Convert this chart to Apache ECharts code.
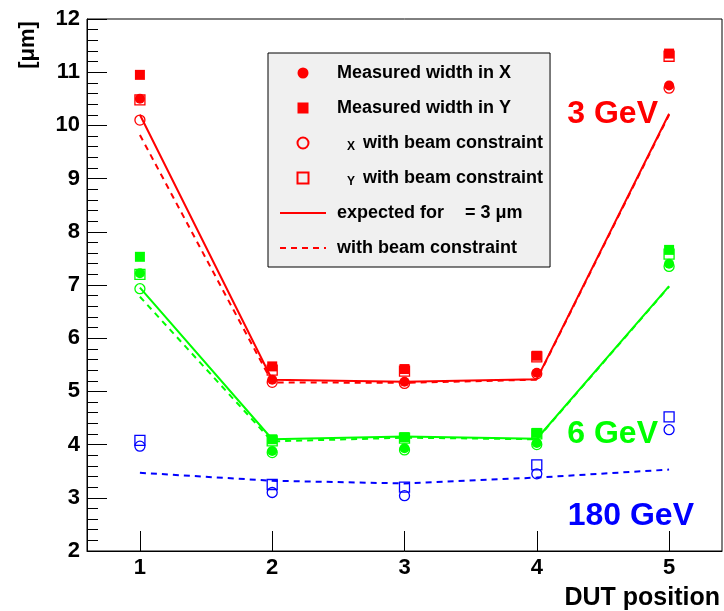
<!DOCTYPE html>
<html>
<head>
<meta charset="utf-8">
<script src="https://cdn.jsdelivr.net/npm/echarts@6/dist/echarts.min.js"></script>
<style>
  html, body { margin: 0; padding: 0; background: #fff; }
  #chart { width: 724px; height: 611px; }
</style>
</head>
<body>
<div id="chart"></div>
<script>
// DUT positions
var positions = [1, 2, 3, 4, 5]
var yTicks = [2, 3, 4, 5, 6, 7, 8, 9, 10, 11, 12]

// 3 GeV
var red_measX = [10.5, 5.22, 5.18, 5.35, 10.75]
var red_measY = [10.95, 5.47, 5.42, 5.67, 11.35]
var red_consX = [10.1, 5.17, 5.15, 5.33, 10.7]
var red_consY = [10.48, 5.4, 5.38, 5.65, 11.3]
var red_exp = [10.2, 5.22, 5.18, 5.23, 10.22]
var red_expC = [9.82, 5.17, 5.16, 5.22, 10.2]

// 6 GeV
var green_measX = [7.22, 3.88, 3.93, 4.03, 7.4]
var green_measY = [7.53, 4.1, 4.14, 4.22, 7.66]
var green_consX = [6.93, 3.85, 3.9, 4.0, 7.35]
var green_consY = [7.2, 4.07, 4.12, 4.2, 7.58]
var green_exp = [6.95, 4.1, 4.15, 4.11, 6.98]
var green_expC = [6.78, 4.06, 4.13, 4.1, 6.97]

// 180 GeV
var blue_consX = [3.97, 3.1, 3.04, 3.45, 4.28]
var blue_consY = [4.08, 3.25, 3.2, 3.62, 4.52]
var blue_expC = [3.47, 3.32, 3.27, 3.38, 3.53]

var RED = '#ff0000'
var GREEN = '#00ff00'
var BLUE = '#0000ff'
var FONT = 'Liberation Sans'
var SQUARE = 'path://M0,0L10,0L10,10L0,10Z'

function pts(vals) {
  return positions.map(function(p, i) { return [p, vals[i]] })
}

function filled(name, color, symbol, vals) {
  return { name: name, type: 'scatter', symbol: symbol, symbolSize: 10, z: 4,
    itemStyle: { color: color, opacity: 1 }, data: pts(vals) }
}
function open(name, color, symbol, vals) {
  return { name: name, type: 'scatter', symbol: symbol, symbolSize: 10, z: 5,
    itemStyle: { color: 'rgba(0,0,0,0)', borderColor: color, borderWidth: 1.3, opacity: 1 }, data: pts(vals) }
}
function line(name, color, dashed, vals) {
  return { name: name, type: 'line', symbol: 'none', z: 3, silent: true,
    lineStyle: { color: color, width: 2, type: dashed ? [6, 5] : 'solid' },
    itemStyle: { color: color }, data: pts(vals) }
}

var legendText = {
  mx: 'Measured width in X',
  my: 'Measured width in Y',
  cx: '{gap|}{sub|X} with beam constraint',
  cy: '{gap|}{sub|Y} with beam constraint',
  exp: 'expected for {gap2|}= 3 μm',
  expc: 'with beam constraint'
}

var chart = echarts.init(document.getElementById('chart'))
chart.setOption({
  animation: false,
  backgroundColor: '#fff',
  grid: { left: 87, top: 19, right: 2, bottom: 60, show: true, borderColor: '#000', borderWidth: 1 },
  xAxis: {
    type: 'value', min: 0.6, max: 5.4,
    name: 'DUT position', nameLocation: 'end', nameGap: -2,
    nameTextStyle: { fontFamily: FONT, fontWeight: 'bold', fontSize: 25, color: '#000',
      align: 'right', verticalAlign: 'top', padding: [35, 0, 0, 0] },
    axisLine: { lineStyle: { color: '#000', width: 1 } },
    axisTick: { inside: true, length: 20, customValues: positions, lineStyle: { color: '#000' } },
    axisLabel: { customValues: positions, margin: 6, fontFamily: FONT, fontWeight: 'bold', fontSize: 22, color: '#000' },
    splitLine: { show: false }
  },
  yAxis: {
    type: 'value', min: yTicks[0], max: yTicks[yTicks.length - 1], interval: 1,
    axisLine: { show: true, lineStyle: { color: '#000', width: 1 } },
    axisTick: { inside: true, length: 20, lineStyle: { color: '#000' } },
    minorTick: { show: true, splitNumber: 5, length: 11, lineStyle: { color: '#000' } },
    axisLabel: { margin: 7, fontFamily: FONT, fontWeight: 'bold', fontSize: 22, color: '#000' },
    splitLine: { show: false }
  },
  legend: {
    orient: 'vertical', left: 268, top: 53,
    padding: [10, 7, 9, 11], itemGap: 15, itemWidth: 46, itemHeight: 11,
    backgroundColor: '#f0f0f0', borderColor: '#000', borderWidth: 1,
    data: [
      { name: 'mx', icon: 'circle' },
      { name: 'my', icon: SQUARE },
      { name: 'cx', icon: 'circle' },
      { name: 'cy', icon: SQUARE },
      { name: 'exp', itemStyle: { opacity: 0 } },
      { name: 'expc', itemStyle: { opacity: 0 } }
    ],
    formatter: function(name) { return legendText[name] },
    textStyle: {
      fontFamily: FONT, fontWeight: 'bold', fontSize: 18, color: '#000', lineHeight: 20, padding: [0, 0, 0, 6],
      rich: {
        gap: { width: 10 },
        gap2: { width: 16 },
        sub: { fontFamily: FONT, fontWeight: 'bold', fontSize: 12, color: '#000', lineHeight: 8, verticalAlign: 'bottom', padding: [0, 3, 0, 0] }
      }
    }
  },
  graphic: [
    { type: 'text', x: 28, y: 45, rotation: Math.PI / 2,
      style: { text: '[μm]', fontFamily: FONT, fontWeight: 'bold', fontSize: 22, fill: '#000', align: 'center', verticalAlign: 'middle' } },
    { type: 'text', x: 658, y: 114,
      style: { text: '3 GeV', fontFamily: FONT, fontWeight: 'bold', fontSize: 32, fill: RED, align: 'right', verticalAlign: 'middle' } },
    { type: 'text', x: 658, y: 434,
      style: { text: '6 GeV', fontFamily: FONT, fontWeight: 'bold', fontSize: 32, fill: GREEN, align: 'right', verticalAlign: 'middle' } },
    { type: 'text', x: 694, y: 516,
      style: { text: '180 GeV', fontFamily: FONT, fontWeight: 'bold', fontSize: 32, fill: BLUE, align: 'right', verticalAlign: 'middle' } }
  ],
  series: [
    line('exp', RED, false, red_exp),
    line('expc', RED, true, red_expC),
    filled('mx', RED, 'circle', red_measX),
    filled('my', RED, 'rect', red_measY),
    open('cx', RED, 'circle', red_consX),
    open('cy', RED, 'rect', red_consY),

    line('g_exp', GREEN, false, green_exp),
    line('g_expc', GREEN, true, green_expC),
    filled('g_mx', GREEN, 'circle', green_measX),
    filled('g_my', GREEN, 'rect', green_measY),
    open('g_cx', GREEN, 'circle', green_consX),
    open('g_cy', GREEN, 'rect', green_consY),

    line('b_expc', BLUE, true, blue_expC),
    open('b_cx', BLUE, 'circle', blue_consX),
    open('b_cy', BLUE, 'rect', blue_consY)
  ]
})
</script>
</body>
</html>
